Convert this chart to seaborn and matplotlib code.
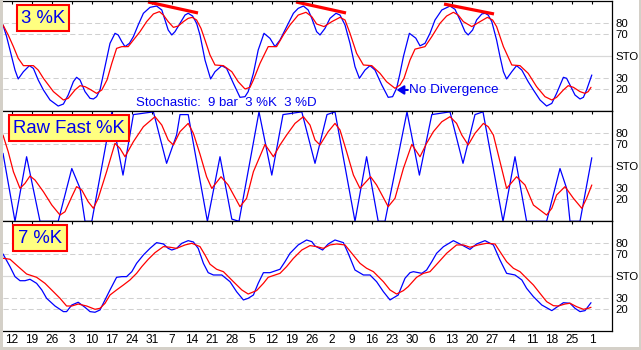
import matplotlib
matplotlib.use("Agg")
import matplotlib.pyplot as plt
from matplotlib.patches import Rectangle
import seaborn as sns

# ---- week tick labels (day of month, Apr 12 .. Nov 1) ----
tick_labels = ["12", "19", "26", "3", "10", "17", "24", "31", "7", "14", "21", "28",
               "5", "12", "19", "26", "2", "9", "16", "23", "30", "6", "13", "20",
               "27", "4", "11", "18", "25", "1"]
tick_days = [2.25 + 5 * i for i in range(len(tick_labels))]

# Each series: (trading-day index, stochastic value)
# ---- panel 1: 3-bar slowed %K and its 3-bar %D ----
k3_slow = [(0, 78.5), (0.9, 67.9), (1.75, 55.7), (3.0, 37.5), (3.8, 29.4), (5.1, 36), (6.6, 41.5),
           (7.6, 39), (8.8, 28.5), (10.1, 19.4), (11.75, 10.3), (13.8, 4.8), (15.1, 6.6),
           (16.3, 14.8), (17.6, 27), (18.4, 30.9), (19.25, 28.5), (20.5, 17.9), (21.75, 11.8),
           (22.6, 11.2), (23.4, 13.3), (24.25, 19.4), (25.5, 40.6), (26.75, 61.8), (28, 70.9),
           (28.8, 69.4), (29.7, 63.3), (30.5, 58.8), (31.6, 61.8), (32.6, 67.9), (33.8, 78.5),
           (35.1, 89.1), (36.75, 94.5), (38.4, 95.7), (39.7, 92.1), (40.5, 83), (41.3, 73.9),
           (42.2, 69.4), (43, 72.4), (44.25, 80), (45.5, 87.5), (46.3, 89.1), (47.4, 86.6),
           (48.4, 80), (49.25, 69.4), (50.5, 46.6), (51.9, 29.4), (53, 36), (54.7, 41.5),
           (55.9, 39), (57.6, 25.4), (59.25, 12.7), (60.5, 13.3), (61.3, 17.9), (62.6, 34.5),
           (63.8, 55.7), (65.25, 70.9), (66.75, 66.3), (68, 58.8), (69.25, 64.8), (70.5, 73.9),
           (72.6, 89.1), (73.8, 93.6), (75.1, 95.7), (76.3, 92.1), (77.2, 84.5), (78.4, 72.4),
           (79.25, 69.4), (80.5, 75.4), (81.75, 84.5), (83.25, 89.1), (84.25, 87.5), (85.5, 78.5),
           (86.75, 61.8), (88, 40.6), (89.1, 30), (90.5, 37.5), (91.75, 41.5), (93, 37.5),
           (94.7, 23.9), (96.3, 12.7), (97.4, 13.3), (98.4, 20.9), (99.25, 34.5), (100.1, 49.7),
           (101.6, 70.9), (103.2, 66.5), (104.25, 59.5), (105.5, 61.8), (106.75, 70.9), (108, 83),
           (109.7, 92.1), (111.75, 95.7), (113, 92.7), (114.25, 83), (115.5, 72.4), (116.3, 69.4),
           (117.4, 73.9), (118.4, 83), (119.7, 88.5), (120.5, 89.1), (121.3, 87.5), (122.2, 81.5),
           (123.4, 64.8), (124.25, 49.7), (125.1, 36), (125.9, 29.4), (127.2, 36), (128.4, 41.5),
           (129.7, 37.5), (131.3, 26.9), (132.6, 19.4), (134.25, 10.3), (135.9, 4.8), (137.2, 7.2),
           (138.4, 16.3), (140.1, 30.9), (140.9, 30), (141.75, 23.9), (143, 14.8), (144.25, 11.2),
           (145.1, 12.7), (145.9, 19.4), (147.2, 33)]
d3_slow = [(0, 78.5), (1.3, 69.4), (2.6, 58.8), (3.8, 48.2), (5.1, 41.5), (7.6, 41.5), (8.8, 37.5),
           (10.1, 30), (12.6, 17.9), (15.1, 10.3), (16.3, 11.8), (18, 19.4), (19.25, 23.3),
           (20.5, 22.4), (21.75, 20), (23.4, 16.3), (24.7, 19.4), (26, 28.5), (27.2, 43.6),
           (28.4, 57.2), (29.7, 58.8), (31.3, 58.8), (32.6, 64.8), (34.25, 72.4), (35.9, 81.5),
           (37.6, 88.5), (39.1, 90.6), (40.1, 87.5), (41.3, 81.5), (42.6, 76.3), (43.8, 77.5),
           (45.1, 81.5), (46.3, 84.5), (47.3, 85.4), (48.4, 83), (49.5, 75.4), (50.5, 64.8),
           (51.75, 51.2), (53, 42.1), (55.1, 41.5), (57.2, 36), (58.8, 26.9), (60.5, 20.3),
           (61.75, 21.8), (62.6, 28.5), (64.25, 43.6), (66.3, 58.8), (68.4, 58.8), (70.1, 69.4),
           (71.75, 78.5), (73.8, 87.5), (75.75, 90), (77.2, 86), (78.4, 79.4), (80.25, 77),
           (82.2, 81.5), (84.25, 85.4), (85.5, 83), (86.75, 70.9), (88.4, 52.7), (90.1, 42.1),
           (92.2, 41.5), (94.25, 34.5), (95.9, 26.9), (98, 20.9), (99.25, 23.9), (100.25, 30),
           (101.75, 46.6), (103, 56.5), (105.5, 58.8), (107.2, 67.9), (109.25, 80), (110.9, 86.6),
           (112.6, 90), (113.8, 87.5), (115.1, 81.5), (117.2, 77), (119.25, 81.5), (121.1, 85.4),
           (122.4, 83), (123.4, 77), (125.1, 58.8), (127.2, 42.1), (129.25, 41.5), (131.3, 34.5),
           (133.4, 22.4), (135.5, 13.3), (137.2, 10.3), (138.4, 12.7), (140.1, 19.4), (141.3, 23.3),
           (142.6, 21.8), (144.25, 17.9), (145.5, 16.3), (146.3, 17.9), (147, 21.8)]

# ---- panel 2: raw fast %K and its 3-bar average ----
k_raw = [(0, 61.8), (3, 0), (5.9, 58.7), (9.25, 0), (13.8, 0), (17.2, 48), (19.25, 30), (20.5, 0),
         (22.2, 0), (27.2, 99), (28.4, 72.4), (30, 42), (32.6, 97), (37.6, 99.5), (40.9, 52.7),
         (43.4, 78.5), (44.25, 97), (46.3, 97), (51.1, 0), (54.25, 58.7), (57.2, 2), (59, 0),
         (64, 99.5), (67.2, 42), (70, 97), (74.7, 99.5), (78, 52.7), (81, 97), (83, 99.5), (88, 0),
         (90.9, 58.7), (93.8, 0), (95.5, 0), (101, 99.5), (104.1, 42), (107.2, 97), (111.75, 99.5),
         (115, 52.7), (118, 97), (120, 99.5), (125, 0), (128, 58.7), (130.9, 0), (135.9, 0),
         (139.25, 48), (140.9, 30), (141.75, 0), (144.25, 0), (147.2, 57.8)]
d_raw = [(0, 78.4), (1.3, 63.3), (2.6, 45.1), (4.25, 29.9), (5.5, 34.5), (6.75, 41.2), (8, 37.5),
         (10.1, 26.9), (12.2, 14.8), (14.25, 5.7), (15.5, 8.7), (17.2, 22.4), (18.4, 31.5),
         (19.7, 28.4), (21.3, 17.8), (22.6, 11.8), (23.8, 20.9), (25.9, 45.1), (28, 70.9),
         (29.25, 66.3), (30.5, 58.7), (32.6, 72.4), (35.1, 86), (38, 95.1), (39.7, 87.5),
         (41.3, 73.9), (42.6, 69.4), (44.25, 81.5), (46.3, 89), (47.6, 79.9), (49.25, 61),
         (50.9, 40.5), (52.2, 29.9), (54.5, 40.5), (56.3, 33), (59.25, 13.3), (60.9, 20.9),
         (62.6, 45.1), (65.5, 69.9), (67.6, 58.7), (69.25, 69.4), (70.9, 78.4), (73, 89),
         (75.1, 95.1), (76.75, 87.5), (78, 73.9), (79.25, 69.4), (81.3, 81.5), (83, 89),
         (84.25, 83), (85.9, 63.3), (87.6, 42.1), (89.25, 29.9), (91.9, 40.5), (93.4, 33),
         (96.3, 13.3), (98, 20.9), (100.1, 48.1), (102.2, 69.9), (104.25, 58.7), (105.9, 70.9),
         (107.6, 81.5), (109.7, 90.5), (111.75, 95.1), (113.4, 89), (114.7, 78.4), (116.3, 69.4),
         (118, 80), (120.1, 89), (121.3, 86), (122.6, 78.4), (124.25, 54.2), (125.9, 29.9),
         (128.4, 40.5), (130.5, 33), (132.6, 14.8), (135.9, 5.7), (137.2, 11.8), (138.4, 23.9),
         (140.5, 31.5), (142.6, 20.9), (144.7, 11.8), (145.9, 20.9), (147.2, 33)]

# ---- panel 3: 7-bar slowed %K and its 3-bar %D ----
k7_slow = [(0, 70.3), (1.75, 58.8), (3, 49.7), (4.25, 46), (5.5, 46), (6.75, 47.3), (8.4, 43.6),
           (9.7, 37.6), (10.9, 30), (13, 23), (15.1, 17.9), (15.9, 17.9), (17.2, 23.9), (18.8, 26.4),
           (20.5, 21.8), (21.75, 17.9), (23, 17.3), (24.25, 19.4), (25.5, 28.5), (26.75, 37.6),
           (28.4, 49.1), (29.7, 49.7), (30.9, 49.7), (32.2, 54.2), (33.4, 61.8), (35.1, 69.4),
           (36.75, 75.4), (38.4, 80.6), (40.1, 79.4), (41.3, 75.4), (42.2, 73.9), (43.4, 75.4),
           (44.7, 80), (46.3, 82.4), (47.6, 81.2), (48.8, 75.4), (50.1, 61.8), (51.3, 53.3),
           (52.6, 51.2), (54.7, 51.2), (56.75, 45.1), (58.4, 36), (60.1, 28.5), (61.3, 30),
           (62.6, 33), (63.8, 43.6), (65.1, 53.3), (66.75, 53.3), (69.25, 56.4), (70.5, 63.3),
           (71.75, 70.9), (73.8, 78.5), (75.9, 83), (77.2, 81.5), (78, 77.6), (79.9, 73.9),
           (81.3, 79.4), (83, 83), (85.1, 80.6), (86.3, 70.9), (88, 55.7), (90.1, 51.2),
           (91.75, 51.2), (93.4, 45.1), (95.1, 36), (96.75, 28.5), (98.8, 33), (100.5, 48.2),
           (101.75, 53.3), (102.6, 54.2), (104.7, 52.7), (105.9, 55.7), (107.2, 63.3),
           (108.4, 70.9), (110.1, 76.9), (112.6, 82.4), (114.7, 78.5), (116.75, 74.5),
           (118.4, 79.4), (120.5, 82.4), (122.6, 78.5), (124.25, 64.8), (125.9, 52.7), (128, 51.2),
           (129.7, 46.7), (130.9, 39.1), (132.6, 31.5), (134.7, 23.9), (137.2, 18.8), (138.4, 21.8),
           (140.1, 26), (141.75, 25.5), (143, 20.9), (144.25, 17.9), (145.5, 18.8), (147, 26)]
d7_slow = [(0, 66.4), (1.75, 65.5), (3.8, 58.8), (5.9, 52.1), (8.4, 49.1), (10.5, 43.6), (12.6, 36),
           (14.25, 30), (15.9, 23), (17.2, 23), (18.8, 24.8), (20.9, 23), (23, 20), (24.25, 20.9),
           (25.5, 25.4), (26.75, 33), (28.4, 37.6), (30.1, 42.1), (31.75, 46.7), (33.4, 52.7),
           (34.7, 58.8), (36.3, 65.4), (38, 71.5), (40.1, 77), (41.75, 76.4), (43.4, 75.4),
           (45.5, 78.5), (47.2, 80), (49.25, 77), (50.5, 69.4), (51.75, 61), (53.4, 56.4),
           (55.1, 54.2), (57.6, 45.1), (59.7, 37.6), (61.3, 33.9), (63.4, 37), (65.1, 43.6),
           (66.3, 49.1), (69.25, 52.7), (70.9, 58.8), (72.6, 66.3), (74.7, 73.9), (76.75, 77.9),
           (78.4, 77), (80.1, 75.4), (81.75, 78.5), (83.4, 79.4), (85.5, 78.5), (87.2, 70.9),
           (89.25, 61.8), (90.9, 57.3), (92.6, 54.2), (95.1, 45.1), (96.75, 37.6), (98.4, 33.9),
           (100.1, 37), (101.3, 40.6), (103.4, 49.1), (105.1, 52.7), (106.75, 54.2), (108.8, 62.4),
           (110.9, 70.9), (113.4, 78.5), (115.1, 78.5), (116.75, 76.4), (118.8, 78.5), (120.9, 80),
           (123, 79.4), (124.25, 72.4), (125.9, 63.3), (127.6, 57.3), (129.25, 54.2), (130.9, 48.2),
           (132.6, 42.1), (134.25, 34.5), (135.9, 27), (137.6, 23.3), (138.8, 23), (140.5, 24.8),
           (141.75, 25.5), (143.4, 22.4), (145.1, 20), (146.3, 20.9), (147, 21.8)]

# ---- falling-peak trendlines drawn over the 3 %K panel ----
div_day = [[36.25, 48.75], [73.25, 85.75], [110.25, 122.75]]
div_val = [[99.4, 89.4], [99.4, 89.4], [97.5, 88.5]]

panel_titles = ["3 %K", "Raw Fast %K", "7 %K"]
right_ticks = [20, 30, 50, 70, 80]
right_labels = ["20", "30", "STO", "70", "80"]

BLUE = "#0000FF"
RED = "#FF0000"
TXT = "#0000EE"

sns.set_theme(style="white")
plt.rcParams["font.family"] = ["Liberation Sans", "DejaVu Sans"]

W, H = 641, 350
fig = plt.figure(figsize=(W / 100, H / 100), dpi=100)
fig.patch.set_facecolor("white")

panels = [(k3_slow, d3_slow), (k_raw, d_raw), (k7_slow, d7_slow)]

axes = []
for i, (kser, dser) in enumerate(panels):
    top_px = 1.3 + 110 * i
    ax = fig.add_axes([3 / W, 1 - (top_px + 110) / H, 609 / W, 110 / H])
    ax.set_facecolor("white")
    ax.set_xlim(0, 152.25)
    ax.set_ylim(0, 100)

    for lvl in (20, 30, 70, 80):
        ax.axhline(lvl, color="#D0D0D0", lw=0.75, ls=(0, (5, 3)), zorder=0)
    ax.axhline(50, color="#D8D8D8", lw=0.9, zorder=0)

    kx, ky = zip(*kser)
    dx, dy = zip(*dser)
    sns.lineplot(x=list(kx), y=list(ky), ax=ax, color=BLUE, linewidth=0.9, estimator=None)
    sns.lineplot(x=list(dx), y=list(dy), ax=ax, color=RED, linewidth=0.9, estimator=None)
    ax.set_xlabel("")
    ax.set_ylabel("")

    for side in ("top", "right", "bottom"):
        ax.spines[side].set_visible(True)
        ax.spines[side].set_color("black")
        ax.spines[side].set_linewidth(0.9)
    ax.spines["left"].set_visible(False)

    ax.set_xticks(tick_days)
    ax.set_xticklabels(tick_labels)
    ax.tick_params(axis="x", direction="in", top=True, bottom=False, length=2.5,
                   width=0.8, color="black", labelbottom=(i == 2), labelsize=8.6,
                   labelcolor="black", pad=2.2)
    ax.yaxis.tick_right()
    ax.set_yticks(right_ticks)
    ax.set_yticklabels(right_labels)
    ax.tick_params(axis="y", length=0, pad=2.2, labelsize=8.2, labelcolor="black")
    ax.grid(False)
    axes.append(ax)

# trendlines across the falling peaks
for xs, ys in zip(div_day, div_val):
    sns.lineplot(x=xs, y=ys, ax=axes[0], color=RED, linewidth=2.3, estimator=None)
for ln in axes[0].lines[-3:]:
    ln.set_clip_on(False)
    ln.set_solid_capstyle("butt")

axes[0].text(33.25, 7.1, "Stochastic:  9 bar  3 %K  3 %D", color=TXT,
             fontsize=9.5, ha="left", va="center")
axes[0].annotate("", xy=(98.4, 19.4), xytext=(101.2, 19.4),
                 arrowprops=dict(arrowstyle="-|>,head_length=0.35,head_width=0.22",
                                 color=TXT, lw=1.5, shrinkA=0, shrinkB=0))
axes[0].text(101.5, 19.4, "No Divergence", color=TXT, fontsize=9.7,
             ha="left", va="center")

# panel title boxes
boxes = [(17, 5, 52, 26), (9, 115, 120, 26), (13, 225, 54, 26)]
for (bx, by, bw, bh), title in zip(boxes, panel_titles):
    fig.patches.append(Rectangle((bx / W, 1 - (by + bh) / H), bw / W, bh / H,
                                 transform=fig.transFigure, facecolor="#FFFF80",
                                 edgecolor=RED, linewidth=1.5, zorder=5))
    fig.text((bx + bw / 2) / W, 1 - (by + bh / 2 + 0.5) / H, title, color=TXT,
             fontsize=13.3, ha="center", va="center", zorder=6)

# window frame strips
for rx, ry, rw, rh in [(0, 0, 2.5, 350), (638.5, 0, 2.5, 350), (0, 347, 641, 3)]:
    fig.patches.append(Rectangle((rx / W, 1 - (ry + rh) / H), rw / W, rh / H,
                                 transform=fig.transFigure, facecolor="#D4D0C8",
                                 edgecolor="none", zorder=1))

fig.savefig("out.png", dpi=100, facecolor="white")
